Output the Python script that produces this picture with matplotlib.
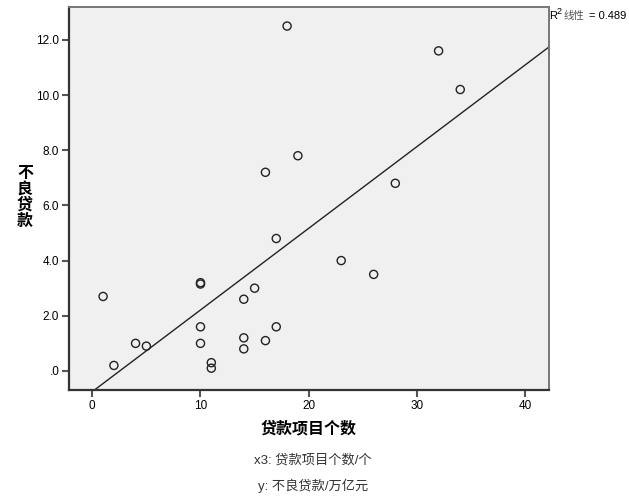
import numpy as np
import matplotlib
matplotlib.use("Agg")
import matplotlib.pyplot as plt
from matplotlib.ticker import FuncFormatter

plt.rcParams['font.family'] = ['Liberation Sans', 'Noto Sans CJK SC', 'DejaVu Sans']

# data
x3 = [1, 2, 4, 5, 10, 10, 10, 10, 11, 11, 14, 14, 14, 15, 16, 17,
      16, 17, 18, 19, 23, 26, 28, 32, 34]
y = [2.7, 0.2, 1.0, 0.9, 3.2, 3.15, 1.6, 1.0, 0.3, 0.1, 2.6, 1.2, 0.8, 3.0, 1.1, 1.6,
     7.2, 4.8, 12.5, 7.8, 4.0, 3.5, 6.8, 11.6, 10.2]
x_ticks = [0, 10, 20, 30, 40]
y_ticks = [0, 2, 4, 6, 8, 10, 12]

fig = plt.figure(figsize=(6.29, 5.04), dpi=100)
ax = fig.add_axes([0.1097, 0.2262, 0.7631, 0.7599])
ax.set_facecolor('#f0f0f0')

xlim = (-2.15, 42.2)
ylim = (-0.69, 13.19)

# fit line
k, b = np.polyfit(x3, y, 1)
xs = np.array(xlim)
ax.plot(xs, k * xs + b, color='#222222', lw=1.0, zorder=2)

ax.scatter(x3, y, s=34, facecolors='none', edgecolors='#222222', linewidths=1.0, zorder=3)

ax.set_xlim(*xlim)
ax.set_ylim(*ylim)
ax.set_xticks(x_ticks)
ax.set_yticks(y_ticks)
ax.yaxis.set_major_formatter(FuncFormatter(lambda v, p: ('%.1f' % v).lstrip('0') if v < 1 else '%.1f' % v))
ax.tick_params(axis='both', labelsize=8.5, length=5, width=1.5, color='#555555', pad=2)

for s in ['left', 'bottom']:
    ax.spines[s].set_color('#333333')
    ax.spines[s].set_linewidth(1.6)
for s in ['top', 'right']:
    ax.spines[s].set_color('#777777')
    ax.spines[s].set_linewidth(1.4)

# labels
fig.text(309 / 629, 1 - 428 / 504, '贷款项目个数', ha='center', va='center',
         fontsize=11.5, fontweight='bold', family=['Noto Sans CJK SC'])
fig.text(25 / 629, 1 - 197 / 504, '\n'.join('不良贷款'), ha='center', va='center',
         fontsize=11.5, fontweight='bold', family=['Noto Sans CJK SC'], linespacing=1.0)
fig.text(549 / 629, 1 - 16 / 504, 'R', ha='left', va='center', fontsize=8)
fig.text(557 / 629, 1 - 11 / 504, '2', ha='left', va='center', fontsize=6.5)
fig.text(564 / 629, 1 - 16 / 504, '线性', ha='left', va='center', fontsize=7.5, color='#555555')
fig.text(626 / 629, 1 - 16 / 504, '= 0.489', ha='right', va='center', fontsize=8)
fig.text(313 / 629, 1 - 460 / 504, 'x3: 贷款项目个数/个', ha='center', va='center',
         fontsize=9.5, color='#333333')
fig.text(313 / 629, 1 - 486 / 504, 'y: 不良贷款/万亿元', ha='center', va='center',
         fontsize=9.5, color='#333333')

fig.savefig('out.png', dpi=100)
